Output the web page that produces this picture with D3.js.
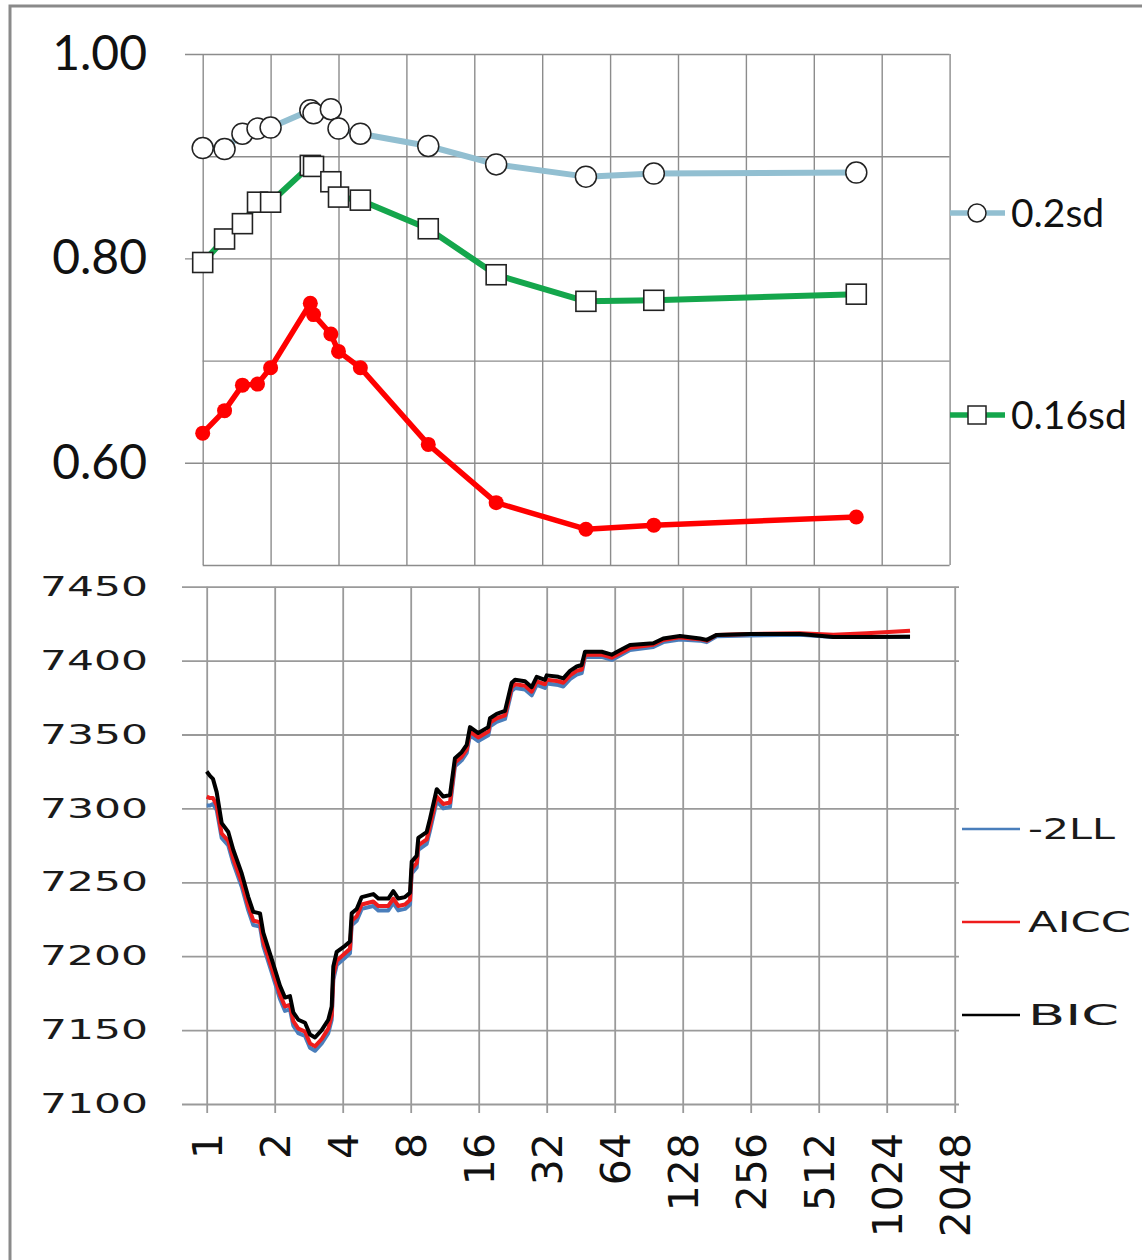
<!DOCTYPE html>
<html>
<head>
<meta charset="utf-8">
<script src="https://cdn.jsdelivr.net/npm/d3@7"></script>
<style>
  html, body { margin: 0; padding: 0; background: #fff; }
  svg { display: block; }
</style>
</head>
<body>
<svg id="chart" width="1142" height="1260"></svg>
<script>
// ---- shared x ticks (powers of two) ----
const xTicks = [1, 2, 4, 8, 16, 32, 64, 128, 256, 512, 1024, 2048];

// ---- upper panel: fit measures by setting ----
const fitX = [1, 1.25, 1.5, 1.75, 2, 3, 3.1, 3.7, 4, 5, 10, 20, 50, 100, 790];
const fit02sd  = [0.908, 0.907, 0.922, 0.927, 0.928, 0.945, 0.942, 0.946, 0.927, 0.922, 0.910, 0.892, 0.880, 0.883, 0.884];
const fit016sd = [0.796, 0.819, 0.834, 0.855, 0.855, 0.891, 0.890, 0.875, 0.860, 0.857, 0.829, 0.784, 0.758, 0.759, 0.765];
const fitLow   = [0.629, 0.651, 0.676, 0.677, 0.693, 0.756, 0.745, 0.726, 0.709, 0.693, 0.618, 0.561, 0.535, 0.539, 0.547];
const topYLabels = [0.6, 0.8, 1.0];
const topYMinor = [0.5, 0.7, 0.9];

// ---- lower panel: information criteria ----
const icX = [1, 1.034, 1.066, 1.107, 1.165, 1.246, 1.311, 1.429, 1.528, 1.608, 1.722, 1.78, 1.94, 2.111, 2.221, 2.337, 2.418, 2.544, 2.724, 2.866,
  3.016, 3.229, 3.454, 3.576, 3.635, 3.763, 4.095, 4.309, 4.384, 4.614, 4.855, 5.464, 5.751, 6.367, 6.7, 7.051, 7.548, 7.944, 8.083, 8.504,
  8.644, 9.416, 9.74, 10.43, 11.15, 11.94, 12.56, 13.45, 14.16, 14.64, 15.93, 17.64, 17.96, 19.22, 20.92, 22.4, 23.17, 25.65, 27.46, 28.9,
  31.45, 32, 36.02, 37.9, 40.58, 43.44, 45.72, 47.28, 51.45, 56.06, 62.07, 67.56, 74.8, 94.87, 105, 124.5, 152.7, 163.5, 181, 254.2,
  423.2, 594.3, 835.2, 1299];
const icLL = [7302, 7302, 7303, 7299, 7280, 7275, 7263, 7247, 7231, 7221, 7220, 7207, 7189, 7171, 7163, 7164, 7153, 7148, 7146, 7138,
  7136, 7141, 7148, 7157, 7184, 7194, 7199, 7202, 7221, 7224, 7232, 7234, 7231, 7231, 7236, 7231, 7232, 7235, 7256, 7260,
  7272, 7276, 7285, 7305, 7300, 7301, 7328.5, 7332.5, 7337.5, 7349.5, 7345.5, 7349.5, 7355.5, 7358.5, 7360.5, 7379.5, 7381.5, 7380.5, 7376.5, 7383.5,
  7381.5, 7384.5, 7383.5, 7382.5, 7387.5, 7390.5, 7391.5, 7402.5, 7402.5, 7402.5, 7400.5, 7403.5, 7407.1, 7409.2, 7412.5, 7414.2, 7413.5, 7412.5, 7416.4, 7417,
  7417.5, 7416, 7416, 7416.2];
const icAICC = [7308, 7307, 7307, 7302, 7283, 7278, 7266, 7250, 7234, 7224, 7223, 7210, 7192, 7174, 7166, 7167, 7156, 7151, 7149, 7141,
  7139, 7144, 7151, 7160, 7187, 7197, 7202, 7205, 7224, 7227, 7235, 7237, 7234, 7234, 7239, 7234, 7235, 7238, 7259, 7263,
  7275, 7279, 7288, 7308, 7303, 7304, 7331, 7335, 7340, 7352, 7348, 7352, 7358, 7361, 7363, 7382, 7384, 7383, 7379, 7386,
  7384, 7387, 7386, 7385, 7390, 7393, 7394, 7404, 7404, 7404, 7402, 7405, 7408.6, 7410.7, 7414, 7415.7, 7414.5, 7413.5, 7417.4, 7418,
  7418.5, 7417.5, 7418.5, 7420.2];
const icBIC = [7325, 7322, 7320, 7311, 7290, 7284, 7272, 7256, 7240, 7230, 7229, 7216, 7198, 7180, 7172, 7173, 7162, 7157, 7155, 7147,
  7145, 7150, 7157, 7166, 7193, 7203, 7207, 7210, 7229, 7232, 7240, 7242, 7239, 7239, 7244, 7239, 7240, 7243, 7264, 7268,
  7280, 7284, 7293, 7313, 7308, 7309, 7334, 7338, 7343, 7355, 7351, 7355, 7361, 7364, 7366, 7385, 7387, 7386, 7382, 7389,
  7387, 7390, 7389, 7388, 7393, 7396, 7397, 7406, 7406, 7406, 7404, 7407, 7410.6, 7411.7, 7415, 7416.7, 7415, 7414, 7417.4, 7418,
  7418, 7416, 7416, 7416.2];
const icYTicks = [7100, 7150, 7200, 7250, 7300, 7350, 7400, 7450];

const svg = d3.select("#chart");
const gridColor = "#8c8c8c";

// outer frame (left and top edges)
svg.append("path")
  .attr("d", "M10,1262 L10,6 L1144,6")
  .attr("fill", "none").attr("stroke", "#8a8a8a").attr("stroke-width", 3);

// ================= upper panel =================
const xTop = d3.scaleLog().base(2).domain([1, 2048]).range([202.7, 949.6]);
const yTop = d3.scaleLinear().domain([0.5, 1.0]).range([565, 54]);
const upper = svg.append("g");

// vertical gridlines
upper.append("g")
  .attr("transform", `translate(0,${yTop(0.5)})`)
  .call(d3.axisBottom(xTop).tickValues(xTicks).tickFormat("")
    .tickSizeInner(-(yTop(0.5) - yTop(1.0))).tickSizeOuter(0))
  .call(g => g.select(".domain").remove())
  .call(g => g.selectAll("line").attr("stroke", gridColor).attr("stroke-width", 1.4));

// minor horizontal gridlines
upper.append("g")
  .attr("transform", `translate(${xTop(1)},0)`)
  .call(d3.axisLeft(yTop).tickValues(topYMinor).tickFormat("")
    .tickSizeInner(-(xTop(2048) - xTop(1))).tickSizeOuter(0))
  .call(g => g.select(".domain").remove())
  .call(g => g.selectAll("line").attr("stroke", gridColor).attr("stroke-width", 1.4));

// labelled horizontal gridlines with tick stubs
upper.append("g")
  .attr("transform", "translate(185,0)")
  .call(d3.axisLeft(yTop).tickValues(topYLabels).tickFormat(d3.format(".2f"))
    .tickSizeInner(-(xTop(2048) - 185)).tickSizeOuter(0).tickPadding(38))
  .call(g => g.select(".domain").remove())
  .call(g => g.selectAll("line").attr("stroke", gridColor).attr("stroke-width", 1.4))
  .call(g => g.selectAll("text")
    .attr("font-family", "Lato, 'Open Sans', sans-serif")
    .attr("font-size", 48).attr("fill", "#111"));

const topLine = vals => d3.line()
  .x((d, i) => xTop(fitX[i]))
  .y(d => yTop(d))(vals);

// 0.2sd series
upper.append("path").attr("d", topLine(fit02sd))
  .attr("fill", "none").attr("stroke", "#92bfd1").attr("stroke-width", 6).attr("stroke-linejoin", "round");
upper.append("g").selectAll("circle").data(fit02sd).join("circle")
  .attr("cx", (d, i) => xTop(fitX[i])).attr("cy", d => yTop(d)).attr("r", 10.5)
  .attr("fill", "#fff").attr("stroke", "#222").attr("stroke-width", 1.5);

// 0.16sd series
upper.append("path").attr("d", topLine(fit016sd))
  .attr("fill", "none").attr("stroke", "#14a64c").attr("stroke-width", 6).attr("stroke-linejoin", "round");
upper.append("g").selectAll("rect").data(fit016sd).join("rect")
  .attr("x", (d, i) => xTop(fitX[i]) - 10).attr("y", d => yTop(d) - 10)
  .attr("width", 20).attr("height", 20)
  .attr("fill", "#fff").attr("stroke", "#222").attr("stroke-width", 1.6);

// third series (red, filled dots)
upper.append("path").attr("d", topLine(fitLow))
  .attr("fill", "none").attr("stroke", "#ff0000").attr("stroke-width", 5.5).attr("stroke-linejoin", "round");
upper.append("g").selectAll("circle").data(fitLow).join("circle")
  .attr("cx", (d, i) => xTop(fitX[i])).attr("cy", d => yTop(d)).attr("r", 7.5)
  .attr("fill", "#ff0000");

// upper legend
const topLegend = [
  { label: "0.2sd", color: "#92bfd1", shape: "circle", y: 213 },
  { label: "0.16sd", color: "#14a64c", shape: "square", y: 415 }
];
topLegend.forEach(e => {
  const g = upper.append("g");
  g.append("line").attr("x1", 950).attr("x2", 1005).attr("y1", e.y).attr("y2", e.y)
    .attr("stroke", e.color).attr("stroke-width", 5.5);
  if (e.shape === "circle") {
    g.append("circle").attr("cx", 977).attr("cy", e.y).attr("r", 9)
      .attr("fill", "#fff").attr("stroke", "#222").attr("stroke-width", 1.5);
  } else {
    g.append("rect").attr("x", 968).attr("y", e.y - 9).attr("width", 18).attr("height", 18)
      .attr("fill", "#fff").attr("stroke", "#222").attr("stroke-width", 1.5);
  }
  g.append("text").attr("x", 1011).attr("y", e.y).attr("dy", "0.36em")
    .attr("font-family", "Lato, 'Open Sans', sans-serif").attr("font-size", 39)
    .attr("fill", "#111").text(e.label);
});

// ================= lower panel =================
const xBot = d3.scaleLog().base(2).domain([1, 2048]).range([206.7, 954.7]);
const yBot = d3.scaleLinear().domain([7100, 7450]).range([1104, 586.7]);
const lower = svg.append("g");
const botGrid = "#9a9a9a";

// horizontal gridlines with labels
lower.append("g")
  .attr("transform", "translate(182,0)")
  .call(d3.axisLeft(yBot).tickValues(icYTicks).tickFormat(d3.format("d"))
    .tickSizeInner(-(959 - 182)).tickSizeOuter(0).tickPadding(34))
  .call(g => g.select(".domain").remove())
  .call(g => g.selectAll("line").attr("stroke", botGrid).attr("stroke-width", 1.8))
  .call(g => g.selectAll("text")
    .attr("font-family", "'DejaVu Sans', Verdana, sans-serif")
    .attr("font-size", 27).attr("fill", "#1a1a1a")
    .attr("textLength", 108).attr("lengthAdjust", "spacingAndGlyphs"));

// vertical gridlines with rotated labels
lower.append("g")
  .attr("transform", "translate(0,1113)")
  .call(d3.axisBottom(xBot).tickValues(xTicks).tickFormat(d3.format("d"))
    .tickSizeInner(-(1113 - yBot(7450))).tickSizeOuter(0))
  .call(g => g.select(".domain").remove())
  .call(g => g.selectAll("line").attr("stroke", botGrid).attr("stroke-width", 1.8))
  .call(g => g.selectAll("text")
    .attr("font-family", "'DejaVu Sans', Verdana, sans-serif")
    .attr("font-size", 41).attr("fill", "#111")
    .attr("transform", "rotate(-90)")
    .attr("text-anchor", "end")
    .attr("x", -20).attr("y", 0).attr("dy", "0.37em"));

const botLine = vals => d3.line()
  .x((d, i) => xBot(icX[i]))
  .y(d => yBot(d))(vals);

const icSeries = [
  { label: "-2LL", vals: icLL, color: "#4a7ebb", ly: 829, tl: 87 },
  { label: "AICC", vals: icAICC, color: "#ee1c1c", ly: 922, tl: 103 },
  { label: "BIC", vals: icBIC, color: "#000000", ly: 1015, tl: 91 }
];
icSeries.forEach(s => {
  lower.append("path").attr("d", botLine(s.vals))
    .attr("fill", "none").attr("stroke", s.color).attr("stroke-width", 4)
    .attr("stroke-linejoin", "round");
});

// lower legend
icSeries.forEach(s => {
  const g = lower.append("g");
  g.append("line").attr("x1", 962).attr("x2", 1020).attr("y1", s.ly).attr("y2", s.ly)
    .attr("stroke", s.color).attr("stroke-width", 2.5);
  g.append("text").attr("x", 1028).attr("y", s.ly).attr("dy", "0.36em")
    .attr("font-family", "'DejaVu Sans', Verdana, sans-serif").attr("font-size", 29)
    .attr("fill", "#1a1a1a")
    .attr("textLength", s.tl).attr("lengthAdjust", "spacingAndGlyphs")
    .text(s.label);
});
</script>
</body>
</html>
